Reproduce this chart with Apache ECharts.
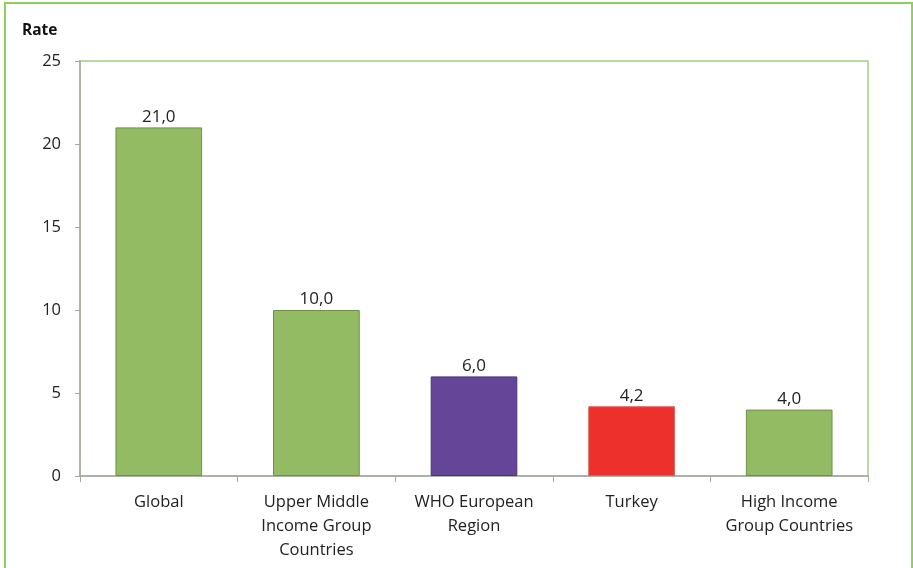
<!DOCTYPE html>
<html>
<head>
<meta charset="utf-8">
<script src="https://cdn.jsdelivr.net/npm/echarts@6/dist/echarts.min.js"></script>
<style>
  html, body { margin: 0; padding: 0; background: #fff; }
  #chart { width: 913px; height: 568px; }
</style>
</head>
<body>
<div id="chart"></div>
<script>
// data
const categories = ['Global', 'Upper Middle\nIncome Group\nCountries', 'WHO European\nRegion', 'Turkey', 'High Income\nGroup Countries'];
const rates = [21.0, 10.0, 6.0, 4.2, 4.0];
const barColors = ['#93bb63', '#93bb63', '#654597', '#ee302c', '#93bb63'];
const barBorders = ['#728f49', '#728f49', '#4e3577', '#d9605d', '#728f49'];
const yTicks = { min: 0, max: 25, interval: 5 };

const chart = echarts.init(document.getElementById('chart'));
const font = '"Open Sans", "Liberation Sans", sans-serif';

const option = {
  animation: false,
  textStyle: { fontFamily: font },
  title: {
    text: 'Rate',
    left: 17,
    top: 18,
    textStyle: { fontSize: 15.5, fontWeight: 'bold', color: '#111', fontFamily: font }
  },
  graphic: [{
    type: 'rect',
    shape: { x: 5, y: 3, width: 907, height: 580 },
    style: { fill: 'none', stroke: '#8fcf5c', lineWidth: 2 },
    silent: true
  }],
  grid: {
    left: 80, top: 61, right: 45, bottom: 92,
    show: true, borderColor: '#b7dba0', borderWidth: 2, backgroundColor: 'transparent'
  },
  xAxis: {
    type: 'category',
    data: categories,
    axisLine: { lineStyle: { color: '#a6a6a6', width: 1.5 } },
    axisTick: { show: true, length: 6, lineStyle: { color: '#a6a6a6' } },
    axisLabel: { fontSize: 16.5, color: '#222', lineHeight: 24, margin: 14, interval: 0 }
  },
  yAxis: {
    type: 'value',
    min: yTicks.min, max: yTicks.max, interval: yTicks.interval,
    splitLine: { show: false },
    axisLine: { show: true, lineStyle: { color: '#a6a6a6', width: 1.5 } },
    axisTick: { show: true, length: 5, lineStyle: { color: '#a6a6a6' } },
    axisLabel: { fontSize: 16.5, color: '#222', margin: 19 }
  },
  series: [{
    type: 'bar',
    barWidth: '55%',
    data: rates.map((v, i) => ({
      value: v,
      itemStyle: { color: barColors[i], borderColor: barBorders[i], borderWidth: 1 }
    })),
    label: {
      show: true,
      position: 'top',
      distance: 2,
      fontSize: 17,
      color: '#222',
      formatter: p => p.value.toFixed(1).replace('.', ',')
    }
  }]
};

chart.setOption(option);
</script>
</body>
</html>
